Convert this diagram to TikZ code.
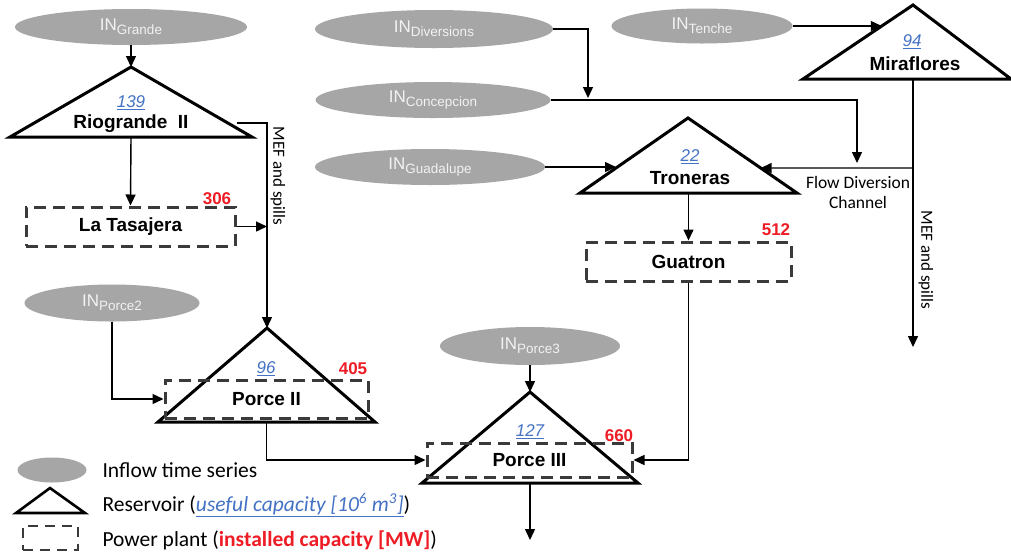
\documentclass[tikz,border=0pt]{standalone}
\usepackage{fontspec}
\setmainfont{Liberation Sans}
\newfontfamily\calibri{Carlito}
\usetikzlibrary{shapes.geometric,arrows.meta,calc}
\definecolor{ingray}{HTML}{A6A6A6}
\definecolor{intext}{HTML}{F2F2F2}
\definecolor{dashgray}{HTML}{3A3A3A}
\definecolor{capblue}{HTML}{4472C4}
\definecolor{mwred}{HTML}{EE1C25}
\newcommand\inlab[1]{IN\raisebox{-0.4ex}{\fontsize{13.5}{15}\selectfont #1}}
\begin{document}
\begin{tikzpicture}[x=1pt,y=-1pt,
  inflow/.style={ellipse, fill=ingray, text=intext, inner sep=0pt, font=\fontsize{17}{20}\selectfont},
  plant/.style={draw=dashgray, line width=3pt, dash pattern=on 12pt off 7pt, inner sep=0pt, font=\bfseries\fontsize{19}{22}\selectfont},
  res/.style={draw=black, line width=3pt, line join=miter},
  conn/.style={line width=1.4pt, -{Triangle[length=11pt,width=10pt]}},
  resname/.style={font=\bfseries\fontsize{19}{22}\selectfont},
  capnum/.style={text=capblue, font=\itshape\fontsize{17}{20}\selectfont},
  mw/.style={text=mwred, font=\bfseries\fontsize{17}{20}\selectfont},
  sidelab/.style={font=\calibri\fontsize{17}{20}\selectfont},
  legtext/.style={anchor=west, font=\calibri\fontsize{21.5}{24}\selectfont}
]
\fill[white] (0,0) rectangle (1011,558);
\useasboundingbox (0,0) rectangle (1011,558);

% inflow ellipses
\node[inflow, minimum width=232pt, minimum height=36pt] (grande) at (131,27) {\inlab{Grande}};
\node[inflow, minimum width=238pt, minimum height=38pt] (divers) at (434,29) {\inlab{Diversions}};
\node[inflow, minimum width=235pt, minimum height=36pt] (concep) at (433,100) {\inlab{Concepcion}};
\node[inflow, minimum width=230pt, minimum height=36pt] (guada) at (430,167) {\inlab{Guadalupe}};
\node[inflow, minimum width=181pt, minimum height=35pt] (tenche) at (702,26) {\inlab{Tenche}};
\node[inflow, minimum width=175pt, minimum height=37pt] (porce2in) at (112,303) {\inlab{Porce2}};
\node[inflow, minimum width=180pt, minimum height=38pt] (porce3in) at (530,346) {\inlab{Porce3}};

% reservoir corners
\coordinate (rioA) at (131,67); \coordinate (rioL) at (10,137); \coordinate (rioR) at (252,137);
\coordinate (mirA) at (913,5); \coordinate (mirL) at (803,79); \coordinate (mirR) at (1011,79);
\coordinate (troA) at (688,118); \coordinate (troL) at (580,193); \coordinate (troR) at (797,193);
\coordinate (p2A) at (267,328); \coordinate (p2L) at (158,422); \coordinate (p2R) at (375,422);
\coordinate (p3A) at (530,392); \coordinate (p3L) at (422,483); \coordinate (p3R) at (638,483);

\draw[res] (rioL) -- (rioA) -- (rioR) -- cycle;
\draw[res] (mirL) -- (mirA) -- (mirR) -- cycle;
\draw[res] (troL) -- (troA) -- (troR) -- cycle;
\draw[res] (p2L) -- (p2A) -- (p2R) -- cycle;
\draw[res] (p3L) -- (p3A) -- (p3R) -- cycle;

\node[capnum] (riocap) at (131,103) {\underline{139}};
\node[resname] (rioname) at (131,124) {Riogrande\ \ II};
\node[capnum] (mircap) at (912,42) {\underline{94}};
\node[resname] (mirname) at (915,64) {Miraflores};
\node[capnum] (trocap) at (690,157) {\underline{22}};
\node[resname] (troname) at (690,178) {Troneras};
\node[capnum] (p2cap) at (266,369) {\underline{96}};
\node[capnum] (p3cap) at (530,432) {\underline{127}};

% power plants
\node[plant, minimum width=209pt, minimum height=39pt] (tasajera) at (130.5,226.5) {La Tasajera};
\node[plant, minimum width=205pt, minimum height=39pt] (guatron) at (688.5,261.5) {Guatron};
\node[plant, minimum width=203pt, minimum height=38pt] (p2box) at (266.5,399) {Porce II};
\node[plant, minimum width=205pt, minimum height=34pt] (p3box) at (529.5,460) {Porce III};

\node[mw] (tasmw) at (217,199) {306};
\node[mw] (guamw) at (776,230) {512};
\node[mw] (p2mw) at (353,369) {405};
\node[mw] (p3mw) at (619,436) {660};

% helper coordinates
\coordinate (rioB) at ($(rioL)!0.5!(rioR)$);
\coordinate (troB) at ($(troL)!0.5!(troR)$);
\coordinate (mirB) at (913,79);
\coordinate (p2B) at ($(p2L)!0.5!(p2R)$);
\coordinate (p3B) at ($(p3L)!0.5!(p3R)$);
\coordinate (rioOut) at (237,123);
\coordinate (rioTurn) at (267,123);
\coordinate (troInL) at ($(troA)!0.6667!(troL)$);
\coordinate (troInR) at ($(troA)!0.6667!(troR)$);
\coordinate (mirIn) at ($(mirA)!0.284!(mirL)$);
\coordinate (mirSplit) at (913,168);
\coordinate (mirEnd) at (913,347);
\coordinate (fdTop) at (857,163);
\coordinate (divJoin) at (588,98);
\coordinate (p3End) at (530,540);

% connectors
\draw[conn] (grande.south) -- (rioA);
\draw[conn] (rioB) -- (tasajera.north);
\draw[conn] (rioOut) -- (rioTurn) -- (p2A);
\draw[conn] (tasajera.east) -- (tasajera.east -| rioTurn);
\draw[conn] (porce2in.south) |- (p2box.west);
\draw[conn] (p2B) |- (p3box.west);
\draw[conn] (porce3in.south) -- (p3A);
\draw[conn] (p3B) -- (p3End);
\draw[conn] (guatron.south) |- (p3box.east);
\draw[conn] (troB) -- (guatron.north);
\draw[conn] (divers.east) -| (divJoin);
\draw[conn] (concep.east) -| (fdTop);
\draw[conn] (guada.east) -- (guada.east -| troInL);
\draw[conn] (tenche.east) -- (tenche.east -| mirIn);
\draw[conn] (mirB) -- (mirEnd);
\draw[conn] (mirSplit) -- (troInR);

% side labels
\node[sidelab, rotate=-90] (mefL) at (278,176) {MEF and spills};
\node[sidelab, rotate=-90] (mefR) at (926,260) {MEF and spills};
\node[sidelab, align=center, font=\calibri\fontsize{17.5}{20}\selectfont] (fdc) at (858,192) {Flow Diversion\\Channel};

% legend
\node[ellipse, fill=ingray, minimum width=69pt, minimum height=25pt, inner sep=0pt] (legell) at (52,470) {};
\coordinate (legA) at (50,488); \coordinate (legL) at (16,513); \coordinate (legR) at (85,513);
\draw[res, line width=2.6pt] (legL) -- (legA) -- (legR) -- cycle;
\node[draw=dashgray, line width=2.6pt, dash pattern=on 10pt off 7pt, minimum width=55pt, minimum height=24pt, inner sep=0pt] (legbox) at (50.5,538) {};
\node[legtext] (leg1) at (99,470) {Inflow time series};
\node[legtext] (leg2) at (99,505) {Reservoir (\textcolor{capblue}{\itshape\underline{useful capacity [10\textsuperscript{6} m\textsuperscript{3}]}})};
\node[legtext] (leg3) at (99,540) {Power plant (\textcolor{mwred}{\bfseries installed capacity [MW]})};
\end{tikzpicture}
\end{document}
